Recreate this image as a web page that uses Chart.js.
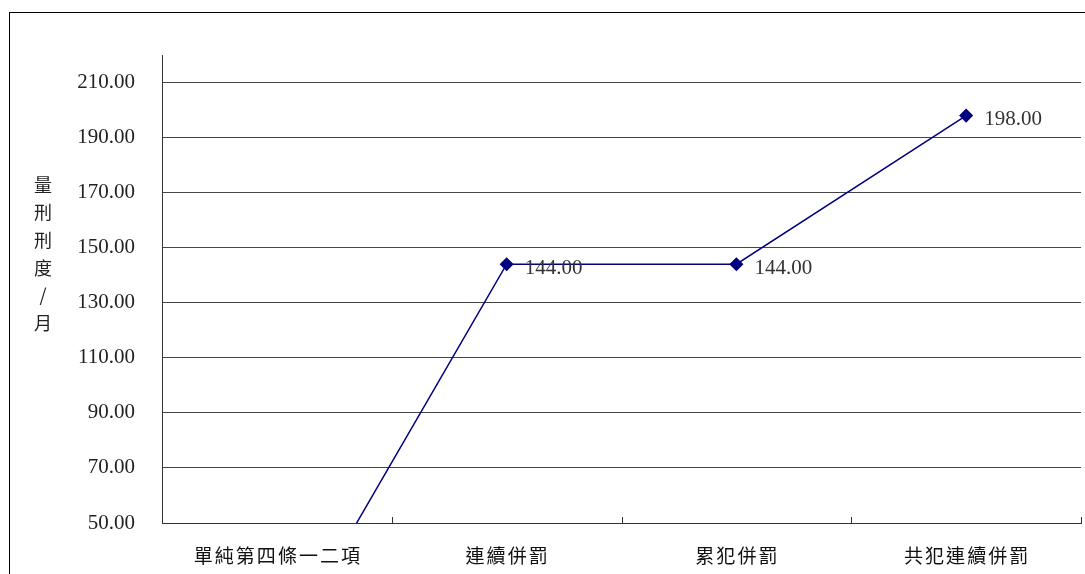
<!DOCTYPE html>
<html>
<head>
<meta charset="utf-8">
<script src="https://cdn.jsdelivr.net/npm/chart.js@4"></script>
<style>
  html, body { margin: 0; padding: 0; background: #fff; overflow: hidden; }
  #wrap { position: relative; width: 1085px; height: 574px; }
  #frame { position: absolute; left: 9px; top: 12px; width: 1200px; height: 700px; border: 1px solid #000; box-sizing: border-box; pointer-events: none; }
  canvas { position: absolute; left: 0; top: 0; }
</style>
</head>
<body>
<div id="wrap">
  <div id="frame"></div>
  <canvas id="myChart" width="1085" height="574"></canvas>
</div>
<script>
const categories = ['單純第四條一二項', '連續併罰', '累犯併罰', '共犯連續併罰'];
const sentenceMonths = [0, 144, 144, 198];
const yTicks = [50, 70, 90, 110, 130, 150, 170, 190, 210];
const yTitle = ['量', '刑', '刑', '度', '/', '月'];

document.addEventListener('DOMContentLoaded', function () {
    const canvas = document.getElementById('myChart');
    const ctx = canvas.getContext('2d');

    const extras = {
        id: 'extras',
        afterDraw(chart) {
            const c = chart.ctx;
            const area = chart.chartArea;
            const x = chart.scales.x;
            const y = chart.scales.y;

            // inward tick marks on the category axis
            c.save();
            c.strokeStyle = '#333';
            c.lineWidth = 1;
            for (let i = 0; i <= categories.length; i++) {
                const px = Math.round(area.left + (area.right - area.left) * i / categories.length) + 0.5;
                c.beginPath();
                c.moveTo(px, area.bottom - 6);
                c.lineTo(px, area.bottom);
                c.stroke();
            }

            // category labels, spaced out like the original
            c.font = '19px "Noto Sans CJK TC", sans-serif';
            c.fillStyle = '#111';
            c.textAlign = 'center';
            c.textBaseline = 'middle';
            c.letterSpacing = '2px';
            categories.forEach(function (lab, i) {
                c.fillText(lab, x.getPixelForValue(i) + 1, area.bottom + 33);
            });
            c.letterSpacing = '0px';

            // value labels
            c.font = '21px "Liberation Serif", serif';
            c.fillStyle = '#333';
            c.textAlign = 'left';
            sentenceMonths.forEach(function (v, i) {
                if (v < y.min || v > y.max) return;
                c.fillText(v.toFixed(2), x.getPixelForValue(i) + 18, y.getPixelForValue(v) + 4);
            });

            // stacked vertical axis title
            c.font = '18px "Noto Sans CJK TC", sans-serif';
            c.fillStyle = '#222';
            c.textAlign = 'center';
            yTitle.forEach(function (ch, i) {
                c.fillText(ch, 43, 185 + i * 27.6);
            });
            c.restore();
        }
    };

    new Chart(ctx, {
        type: 'line',
        data: {
            labels: categories,
            datasets: [
                {
                    data: sentenceMonths,
                    borderColor: '#000080',
                    backgroundColor: '#000080',
                    borderWidth: 1.5,
                    pointStyle: 'rectRot',
                    pointRadius: 6,
                    pointHoverRadius: 6,
                    tension: 0,
                    clip: 0
                }
            ]
        },
        options: {
            responsive: false,
            animation: false,
            events: [],
            layout: { autoPadding: false, padding: { left: 0, right: 4, top: 55, bottom: 0 } },
            plugins: {
                legend: { display: false },
                tooltip: { enabled: false }
            },
            scales: {
                x: {
                    offset: true,
                    grid: { display: false, drawTicks: false },
                    border: { color: '#333', width: 1 },
                    ticks: { display: false },
                    afterFit(scale) { scale.height = 51; }
                },
                y: {
                    min: 50,
                    max: 220,
                    afterBuildTicks(scale) {
                        scale.ticks = yTicks.map(function (v) { return { value: v }; });
                    },
                    grid: { color: '#444', drawTicks: false },
                    border: { color: '#333', width: 1 },
                    ticks: {
                        color: '#222',
                        padding: 27,
                        font: { family: '"Liberation Serif", serif', size: 21 },
                        callback: function (v) { return Number(v).toFixed(2); }
                    },
                    afterFit(scale) { scale.width = 162; }
                }
            }
        },
        plugins: [extras]
    });
});
</script>
</body>
</html>
